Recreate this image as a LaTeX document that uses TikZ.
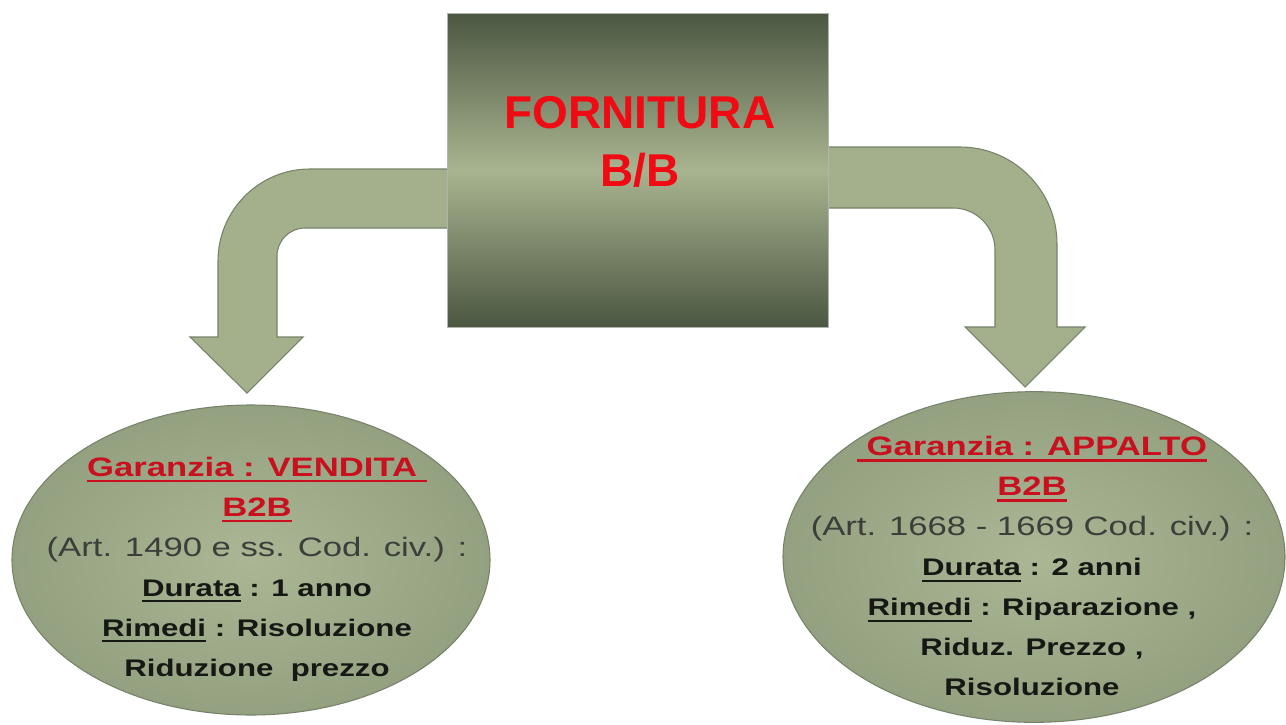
\documentclass[tikz,border=0pt]{standalone}
\usepackage{fontspec}
\setmainfont{Liberation Sans}
\usetikzlibrary{shapes.geometric}
\definecolor{rossotitolo}{RGB}{240,10,20}
\definecolor{rossoscuro}{RGB}{200,16,30}
\definecolor{grigiotesto}{RGB}{60,62,58}
\definecolor{nerotesto}{RGB}{22,24,20}
\definecolor{verdefreccia}{RGB}{163,176,139}
\definecolor{bordoverde}{RGB}{118,130,106}
\definecolor{scuro}{RGB}{76,87,66}
\definecolor{chiaro}{RGB}{168,180,143}
\definecolor{ellchiaro}{RGB}{170,182,148}
\definecolor{ellscuro}{RGB}{148,161,128}
\newcommand{\sott}[2][1.5pt]{\setbox0=\hbox{#2}\rlap{\rule[-4.5pt]{\wd0}{#1}}\box0\relax}
\newcommand{\garanzia}[1]{{\color{rossoscuro}\bfseries\sott[2pt]{#1}}}
\newcommand{\riga}[1]{{\fontsize{18}{30}\selectfont\bfseries\color{nerotesto}#1}}
\tikzset{
  freccia/.style={fill=verdefreccia, draw=bordoverde, line width=0.8pt},
  riquadro/.style={rectangle, top color=scuro, bottom color=scuro, middle color=chiaro,
    draw=gray!60, line width=0.6pt, minimum width=285.75pt, minimum height=235.5pt},
  ellisse/.style={ellipse, inner color=ellchiaro, outer color=ellscuro,
    draw=bordoverde, line width=0.8pt},
  testo/.style={align=center, text=grigiotesto, xscale=1.3,
    font=\fontsize{20}{30}\selectfont}
}
\begin{document}
\begin{tikzpicture}[x=0.75pt,y=0.75pt]
\path[fill=white, use as bounding box] (0,0) rectangle (1286,-725);
% frecce
\filldraw[freccia] (448,-169) -- (310,-169) arc (90:180:92) -- (218,-337) -- (190,-337)
  -- (247,-393) -- (303,-337) -- (277,-337) -- (277,-256) arc (180:90:28) -- (448,-228) -- cycle;
\filldraw[freccia] (828,-147) -- (960,-147) arc (90:0:97) -- (1057,-327) -- (1085,-327)
  -- (1025,-387) -- (965,-327) -- (995,-327) -- (995,-250) arc (0:90:42) -- (828,-208) -- cycle;
\node[riquadro] (fornitura) at (637.5,-170) {};
\node[text=rossotitolo, align=center, font=\fontsize{34.5}{44}\selectfont\bfseries]
  (titolo) at (640,-142) {FORNITURA\\B/B};
\node[ellisse, minimum width=358.5pt, minimum height=232.5pt] (vendita) at (251,-560) {};
\node[ellisse, minimum width=376.5pt, minimum height=248pt] (appalto) at (1034,-557) {};
\node[testo] (tvendita) at (257,-569) {\garanzia{Garanzia : VENDITA\ }\\
  \garanzia{B2B}\\
  (Art. 1490 e ss. Cod. civ.) :\\
  \riga{\sott{Durata} : 1 anno}\\
  \riga{\sott{Rimedi} : Risoluzione}\\
  \riga{Riduzione\ \ prezzo}};
\node[testo] (tappalto) at (1032,-566) {\garanzia{\ Garanzia : APPALTO}\\
  \garanzia{B2B}\\
  (Art. 1668 - 1669 Cod. civ.) :\\
  \riga{\sott{Durata} : 2 anni}\\
  \riga{\sott{Rimedi} : Riparazione ,}\\
  \riga{Riduz. Prezzo ,}\\
  \riga{Risoluzione}};
\end{tikzpicture}
\end{document}
